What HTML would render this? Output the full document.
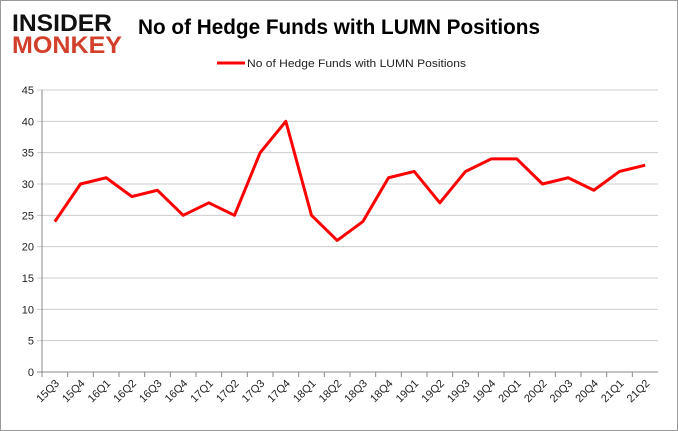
<!DOCTYPE html>
<html><head><meta charset="utf-8"><style>
body{margin:0;background:#fff;font-family:"Liberation Sans",sans-serif}
#wrap{position:relative;width:678px;height:431px;box-sizing:border-box;border:1px solid #999;overflow:hidden}
</style></head><body>
<div id="wrap">
<svg id="c" width="678" height="431">
<text x="11" y="30" font-size="24" font-weight="bold" fill="#111" textLength="100" lengthAdjust="spacingAndGlyphs">INSIDER</text>
<text x="11" y="52" font-size="24" font-weight="bold" fill="#d23f2a" textLength="110" lengthAdjust="spacingAndGlyphs">MONKEY</text>
<text x="137" y="33" font-size="21" font-weight="bold" fill="#000" textLength="402" lengthAdjust="spacingAndGlyphs">No of Hedge Funds with LUMN Positions</text>
<line x1="216" y1="62" x2="244" y2="62" stroke="#f00" stroke-width="3"/>
<text x="246" y="66" font-size="11" fill="#222" textLength="219" lengthAdjust="spacingAndGlyphs">No of Hedge Funds with LUMN Positions</text>
<g id="g"></g>
</svg>
</div>
<script>
const categories=["15Q3","15Q4","16Q1","16Q2","16Q3","16Q4","17Q1","17Q2","17Q3","17Q4","18Q1","18Q2","18Q3","18Q4","19Q1","19Q2","19Q3","19Q4","20Q1","20Q2","20Q3","20Q4","21Q1","21Q2"];
const values=[24,30,31,28,29,25,27,25,35,40,25,21,24,31,32,27,32,34,34,30,31,29,32,33];
const yTicks=[0,5,10,15,20,25,30,35,40,45];
const NS="http://www.w3.org/2000/svg";
const g=document.getElementById('g');
const L=41,R=657,T=89,B=371,yMax=45;
const step=(R-L)/categories.length;
const x=i=>L+step*(i+0.5);
const y=v=>B-(v/yMax)*(B-T);
function mk(t,a){const e=document.createElementNS(NS,t);for(const k in a)e.setAttribute(k,a[k]);g.appendChild(e);return e;}
yTicks.forEach(v=>{
 const l=mk('line',{x1:L-5,x2:R,y1:y(v),y2:y(v),stroke:v===0?'#888':'#ccc'});
 
 
 const t=mk('text',{x:L-8,y:y(v)+4,'font-size':11,'text-anchor':'end',fill:'#222'});t.textContent=v;
 
 
});
const ax=mk('line',{x1:L,x2:L,y1:T,y2:B,stroke:'#888'});


categories.forEach((c,i)=>{
 const tk=mk('line',{x1:L+step*i,x2:L+step*i,y1:B,y2:B+5,stroke:'#888'});
 
 
 const t=mk('text',{x:x(i)+5,y:B+12,'font-size':11,'text-anchor':'end',fill:'#222',transform:`rotate(-45 ${x(i)+5} ${B+12})`});t.textContent=c;
 
 
});
const p=mk('polyline',{points:values.map((v,i)=>x(i)+','+y(v)).join(' '),fill:'none',stroke:'#f00','stroke-width':3,'stroke-linejoin':'round'});


</script>
</body></html>
